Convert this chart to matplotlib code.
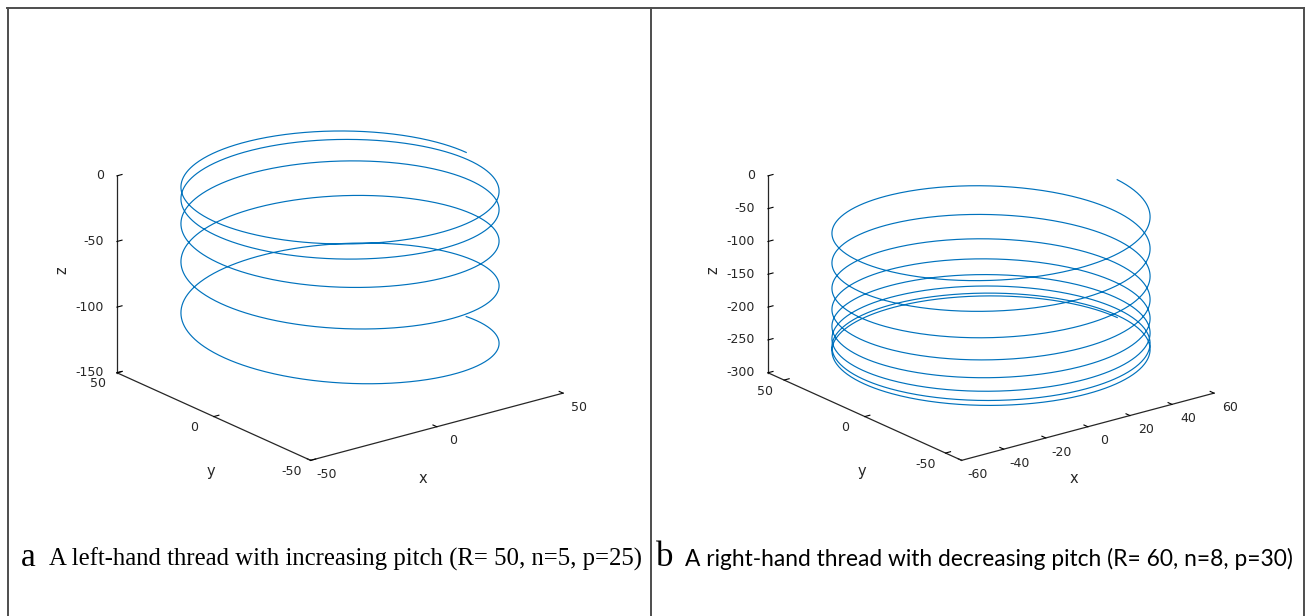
import numpy as np
import matplotlib
matplotlib.use("Agg")
import matplotlib.pyplot as plt
from matplotlib.lines import Line2D
from mpl_toolkits.mplot3d import proj3d

plt.rcParams["axes.unicode_minus"] = False

# --- thread a: left-hand, increasing pitch ---
radius_a = 50
turns_a = 5
top_z_a = 0.0          # z of the upper end of the thread
start_pitch_a = 0.0    # pitch at the upper end
pitch_step_a = 10.0    # change of pitch per turn (turns: 5, 15, 25, 35, 45)
sense_a = 1
xlim_a = (-50, 50)
ylim_a = (-50, 50)
zlim_a = (-150, 0)
xticks_a = [-50, 0, 50]
yticks_a = [-50, 0, 50]
zticks_a = [-150, -100, -50, 0]

# --- thread b: right-hand, decreasing pitch ---
radius_b = 60
turns_b = 8
top_z_b = -41.5
start_pitch_b = 52.5
pitch_step_b = -6.5625
sense_b = -1
xlim_b = (-60, 60)
ylim_b = (-60, 60)
zlim_b = (-300, 0)
xticks_b = [-60, -40, -20, 0, 20, 40, 60]
yticks_b = [-50, 0, 50]
zticks_b = [-300, -250, -200, -150, -100, -50, 0]

cap_a = "A left-hand thread with increasing pitch (R= 50, n=5, p=25)"
cap_b = "A right-hand thread with decreasing pitch (R= 60, n=8, p=30)"

W, H = 1305, 616
LINE = "#0072BD"
AX = "#262626"


def thread(radius, turns, top_z, p0, dp, sense):
    t = np.linspace(0, turns, 3000)
    ang = sense * 2 * np.pi * t
    z = top_z - p0 * t - 0.5 * dp * t ** 2
    return radius * np.cos(ang), radius * np.sin(ang), z


def at(lim, f):
    return lim[0] + f * (lim[1] - lim[0])


def label3d(ax, x, y, z, s, **kw):
    # project the 3D anchor and put a plain 2D text there
    px, py, _ = proj3d.proj_transform(x, y, z, ax.get_proj())
    return ax.text2D(px, py, s, transform=ax.transData, **kw)


def panel(fig, cx, cy, size, xyz, xlim, ylim, zlim, xt, yt, zt):
    left = (cx - 0.5135 * size) / W
    bottom = (H - cy - 0.5135 * size) / H
    ax = fig.add_axes([left, bottom, size / W, size / H], projection="3d")
    ax.plot(*xyz, color=LINE, lw=0.85)
    ax.set_xlim(xlim)
    ax.set_ylim(ylim)
    ax.set_zlim(zlim)
    ax.set_xticks(xt, [])
    ax.set_yticks(yt, [])
    ax.set_zticks(zt, [])
    ax.set_proj_type("ortho")
    ax.view_init(elev=20.3, azim=-127.5)
    ax.set_box_aspect((1, 1, 0.66))
    ax.grid(False)
    for axis in (ax.xaxis, ax.yaxis, ax.zaxis):
        axis.set_pane_color((1, 1, 1, 0))
        axis.pane.set_edgecolor((1, 1, 1, 0))
        axis.line.set_color(AX)
        axis.line.set_linewidth(0.9)
        axis._axinfo["tick"]["inward_factor"] = 0.0
        axis._axinfo["tick"]["outward_factor"] = 0.25
        axis._axinfo["tick"]["color"] = AX
        axis.label.set_visible(False)
        axis.get_offset_text().set_visible(False)

    # tick labels, MATLAB-like placement next to the box edges
    tk = dict(fontsize=9, color=AX, va="center")
    for v in xt:
        label3d(ax, v, at(ylim, -0.083), at(zlim, -0.035), str(v), ha="center", **tk)
    for v in yt:
        label3d(ax, at(xlim, -0.077), v, at(zlim, -0.03), str(v), ha="center", **tk)
    for v in zt:
        label3d(ax, at(xlim, -0.032), at(ylim, 1.025), v, str(v), ha="right", **tk)

    # axis names
    kw = dict(fontsize=10.5, color=AX, ha="center", va="center")
    label3d(ax, at(xlim, 0.182), at(ylim, -0.342), zlim[0], "x", **kw)
    label3d(ax, at(xlim, -0.313), at(ylim, 0.108), zlim[0], "y", **kw)
    label3d(ax, at(xlim, -0.116), at(ylim, 1.133), at(zlim, 0.5), "z",
            rotation=90, **kw)
    return ax


fig = plt.figure(figsize=(W / 100, H / 100), dpi=100)

panel(fig, 340, 284.5, 482, thread(radius_a, turns_a, top_z_a, start_pitch_a, pitch_step_a, sense_a),
      xlim_a, ylim_a, zlim_a, xticks_a, yticks_a, zticks_a)
panel(fig, 991, 284.5, 482, thread(radius_b, turns_b, top_z_b, start_pitch_b, pitch_step_b, sense_b),
      xlim_b, ylim_b, zlim_b, xticks_b, yticks_b, zticks_b)

# table frame around the two panels
frame = dict(color="#4d4d4d", lw=1.4, transform=fig.transFigure)
for xs, ys in [((7, 1304), (8, 8)), ((7.5, 7.5), (8, 616)),
               ((651, 651), (8, 616)), ((1303.5, 1303.5), (8, 616))]:
    fig.add_artist(Line2D([x / W for x in xs], [1 - y / H for y in ys], **frame))

# captions
ty = 1 - 566 / H
fig.text(21 / W, ty, "a", family="Liberation Serif", fontsize=24, va="baseline")
fig.text(49 / W, ty, cap_a, family="Liberation Serif", fontsize=17.8, va="baseline")
fig.text(656 / W, ty, "b", family="Liberation Serif", fontsize=25, va="baseline")
fig.text(685 / W, ty, cap_b, family="Lato", fontsize=16.4, va="baseline")

fig.savefig("out.png", dpi=100)
